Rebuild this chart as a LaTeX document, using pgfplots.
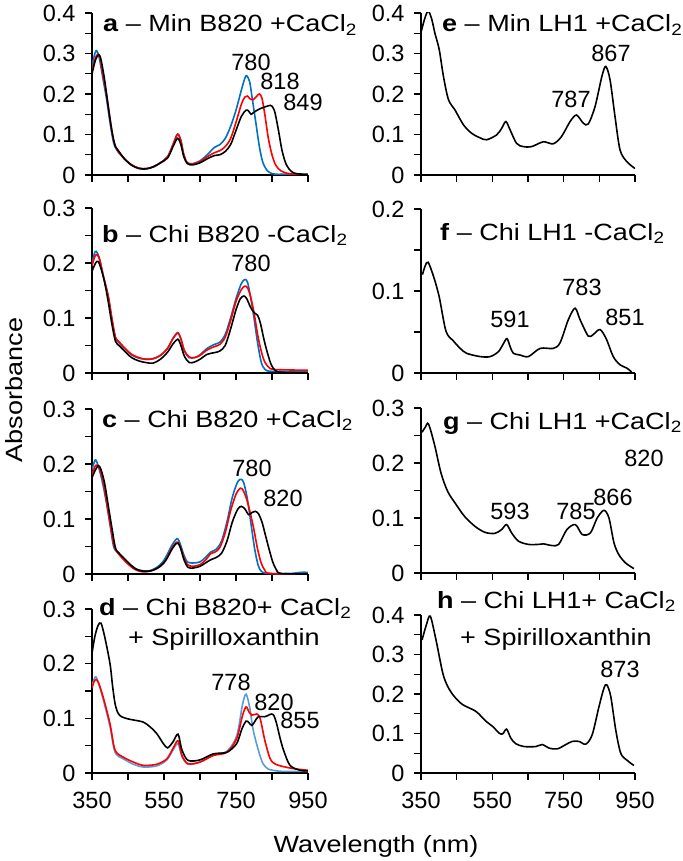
\documentclass[border=0pt]{standalone}
\usepackage{pgfplots}
\pgfplotsset{compat=1.18}
\usepackage{fontspec}
\setmainfont{Liberation Sans}
\newfontfamily\tfont[FakeStretch=1.15]{Liberation Sans}
\newcommand{\fs}{\fontsize{23.5}{28}\selectfont}
\definecolor{cblue}{RGB}{0,112,192}
\definecolor{cred}{RGB}{255,0,0}
\definecolor{clblue}{RGB}{91,155,213}
\pgfplotsset{
  panel/.style={
    scale only axis, anchor=south west,
    axis lines=left, axis line style={-, line width=1.1pt},
    tick align=outside, major tick length=7pt, minor tick length=7pt,
    every tick/.style={black, line width=1.1pt},
    every minor tick/.style={black, line width=1.1pt},
    xmin=350, xmax=950, ymin=0,
    xtick={350,550,750,950}, minor xtick={450,650,850},
    tick label style={font=\fs},
    /pgf/number format/assume math mode=true,
    xticklabels={},
    xticklabel style={yshift=-9pt},
    yticklabel style={xshift=-6pt},
    every axis plot/.append style={line width=1.6pt, smooth, no markers},
  },
  y4/.style={ymax=0.4, ytick={0,0.1,0.2,0.3,0.4}, minor ytick={0.05,0.15,0.25,0.35}},
  y3/.style={ymax=0.3, ytick={0,0.1,0.2,0.3}, minor ytick={0.05,0.15,0.25}},
  y2/.style={ymax=0.2, ytick={0,0.1,0.2}, minor ytick={0.05,0.15}},
  bottom/.style={xticklabels={350,550,750,950}},
}
\begin{document}
\begin{tikzpicture}
\useasboundingbox (0,0) rectangle (682pt,-861pt);
% ---------------- a
\begin{axis}[panel, y4, at={(92pt,-175pt)}, width=216pt, height=162pt]
\addplot[cblue] coordinates {(350,0.27)(358,0.30)(363,0.307)(370,0.29)(380,0.24)(390,0.19)(400,0.13)(410,0.08)(420,0.06)(430,0.05)(440,0.04)(460,0.025)(480,0.017)(500,0.015)(520,0.02)(540,0.03)(560,0.045)(575,0.075)(585,0.098)(590,0.1)(597,0.085)(605,0.05)(615,0.03)(630,0.028)(650,0.035)(670,0.05)(690,0.068)(705,0.075)(720,0.09)(735,0.12)(750,0.16)(765,0.21)(775,0.24)(780,0.245)(788,0.23)(795,0.19)(805,0.13)(815,0.07)(825,0.03)(840,0.008)(860,0.002)(900,0.002)(950,0.0)};
\addplot[cred] coordinates {(350,0.26)(360,0.29)(366,0.298)(372,0.29)(380,0.25)(390,0.2)(400,0.14)(410,0.085)(420,0.062)(430,0.05)(440,0.04)(460,0.025)(480,0.017)(500,0.016)(520,0.02)(540,0.03)(560,0.045)(575,0.075)(585,0.097)(590,0.1)(597,0.085)(605,0.05)(615,0.03)(630,0.027)(650,0.033)(670,0.045)(690,0.055)(705,0.06)(720,0.07)(735,0.09)(750,0.13)(765,0.175)(775,0.193)(782,0.195)(790,0.187)(798,0.186)(808,0.195)(815,0.2)(822,0.19)(830,0.15)(840,0.09)(850,0.05)(860,0.025)(875,0.01)(900,0.003)(950,0)};
\addplot[black] coordinates {(350,0.25)(360,0.285)(369,0.297)(375,0.285)(385,0.235)(395,0.17)(405,0.11)(415,0.07)(425,0.058)(440,0.04)(460,0.024)(480,0.016)(500,0.015)(520,0.02)(540,0.03)(560,0.042)(575,0.07)(585,0.088)(590,0.09)(597,0.075)(605,0.045)(615,0.028)(630,0.025)(650,0.03)(670,0.04)(690,0.048)(705,0.05)(720,0.058)(735,0.075)(750,0.11)(765,0.145)(778,0.16)(785,0.158)(792,0.15)(800,0.155)(815,0.163)(830,0.168)(845,0.172)(850,0.17)(858,0.155)(868,0.11)(878,0.06)(890,0.025)(905,0.008)(920,0.003)(950,0.002)};
\end{axis}
% ---------------- b
\begin{axis}[panel, y3, at={(92pt,-373pt)}, width=216pt, height=165pt]
\addplot[cblue] coordinates {(350,0.2)(357,0.218)(362,0.221)(370,0.21)(380,0.18)(395,0.14)(405,0.1)(415,0.065)(425,0.055)(440,0.045)(460,0.033)(480,0.027)(500,0.025)(520,0.026)(540,0.032)(560,0.045)(575,0.063)(585,0.072)(590,0.073)(597,0.062)(607,0.04)(620,0.028)(635,0.028)(650,0.033)(670,0.045)(690,0.052)(705,0.056)(720,0.07)(735,0.1)(750,0.135)(765,0.163)(775,0.17)(782,0.165)(790,0.14)(800,0.1)(810,0.055)(820,0.02)(830,0.007)(850,0.003)(950,0.003)};
\addplot[cred] coordinates {(350,0.195)(358,0.212)(364,0.215)(372,0.205)(382,0.175)(395,0.14)(405,0.1)(415,0.065)(425,0.057)(440,0.046)(460,0.034)(480,0.028)(500,0.025)(520,0.026)(540,0.032)(560,0.045)(575,0.063)(585,0.071)(590,0.072)(597,0.062)(607,0.04)(620,0.029)(635,0.028)(650,0.032)(670,0.042)(690,0.048)(705,0.052)(720,0.065)(735,0.095)(750,0.13)(765,0.152)(775,0.158)(782,0.155)(790,0.14)(800,0.11)(810,0.07)(820,0.04)(830,0.02)(845,0.008)(870,0.006)(950,0.005)};
\addplot[black] coordinates {(350,0.185)(360,0.2)(367,0.203)(375,0.19)(385,0.165)(395,0.13)(405,0.09)(415,0.058)(425,0.05)(440,0.04)(460,0.028)(480,0.022)(500,0.019)(520,0.018)(540,0.025)(560,0.038)(575,0.053)(585,0.06)(590,0.061)(597,0.05)(607,0.03)(620,0.019)(635,0.02)(650,0.025)(670,0.034)(690,0.037)(705,0.04)(720,0.05)(735,0.08)(750,0.115)(762,0.135)(772,0.14)(780,0.135)(790,0.12)(800,0.11)(810,0.105)(818,0.09)(828,0.06)(838,0.035)(848,0.015)(860,0.004)(880,0.001)(950,0)};
\end{axis}
% ---------------- c
\begin{axis}[panel, y3, at={(92pt,-574pt)}, width=216pt, height=165pt]
\addplot[cblue] coordinates {(350,0.19)(357,0.205)(361,0.207)(368,0.195)(378,0.17)(390,0.13)(400,0.09)(410,0.05)(420,0.04)(435,0.03)(450,0.02)(470,0.01)(490,0.006)(510,0.006)(530,0.012)(550,0.025)(570,0.05)(582,0.062)(588,0.064)(595,0.055)(605,0.035)(615,0.022)(630,0.02)(650,0.022)(665,0.03)(680,0.04)(695,0.045)(710,0.06)(725,0.095)(740,0.14)(755,0.168)(765,0.172)(772,0.165)(782,0.135)(792,0.09)(802,0.045)(812,0.015)(822,0.004)(840,0.001)(900,0.001)(930,0.003)(950,0.003)};
\addplot[cred] coordinates {(350,0.18)(358,0.195)(364,0.198)(372,0.19)(382,0.165)(392,0.125)(402,0.085)(412,0.05)(422,0.038)(435,0.028)(450,0.018)(470,0.008)(490,0.004)(510,0.005)(530,0.01)(550,0.02)(570,0.045)(582,0.056)(588,0.058)(595,0.05)(605,0.03)(615,0.017)(630,0.014)(650,0.017)(665,0.025)(680,0.037)(692,0.04)(705,0.048)(720,0.075)(735,0.115)(750,0.145)(762,0.156)(770,0.152)(780,0.135)(790,0.11)(800,0.08)(810,0.045)(820,0.02)(830,0.007)(845,0.001)(950,0)};
\addplot[black] coordinates {(350,0.175)(360,0.19)(368,0.197)(375,0.19)(385,0.165)(395,0.125)(405,0.085)(415,0.048)(425,0.038)(440,0.028)(455,0.018)(475,0.008)(495,0.005)(515,0.006)(535,0.012)(555,0.025)(572,0.045)(583,0.055)(589,0.056)(596,0.047)(606,0.025)(617,0.012)(632,0.011)(650,0.014)(665,0.02)(680,0.026)(695,0.03)(710,0.038)(725,0.06)(740,0.095)(755,0.118)(765,0.123)(775,0.118)(785,0.108)(795,0.112)(803,0.114)(812,0.11)(822,0.095)(832,0.07)(842,0.045)(852,0.022)(862,0.008)(875,0.001)(950,0)};
\end{axis}
% ---------------- d
\begin{axis}[panel, y3, bottom, at={(92pt,-773pt)}, width=216pt, height=164pt]
\addplot[clblue] coordinates {(350,0.16)(356,0.172)(361,0.176)(368,0.165)(381,0.135)(400,0.085)(414,0.038)(437,0.026)(465,0.016)(493,0.011)(530,0.013)(558,0.024)(575,0.042)(589,0.054)(600,0.03)(617,0.016)(650,0.02)(687,0.033)(725,0.04)(752,0.068)(768,0.125)(778,0.144)(788,0.12)(798,0.078)(812,0.042)(825,0.017)(840,0.007)(852,0.005)(880,0.003)(950,0.003)};
\addplot[cred] coordinates {(350,0.155)(355,0.166)(361,0.171)(368,0.165)(381,0.139)(400,0.09)(414,0.042)(437,0.029)(465,0.02)(493,0.014)(530,0.016)(558,0.026)(575,0.045)(589,0.059)(600,0.032)(617,0.017)(650,0.02)(687,0.032)(725,0.038)(752,0.063)(768,0.105)(778,0.121)(786,0.112)(794,0.106)(802,0.107)(808,0.108)(817,0.1)(830,0.06)(845,0.026)(860,0.016)(873,0.013)(910,0.008)(950,0.005)};
\addplot[black] coordinates {(350,0.219)(358,0.25)(367,0.27)(375,0.274)(385,0.25)(400,0.2)(407,0.16)(414,0.127)(422,0.11)(432,0.103)(450,0.099)(465,0.097)(493,0.093)(512,0.084)(530,0.072)(548,0.054)(560,0.046)(575,0.057)(589,0.071)(600,0.042)(617,0.023)(650,0.024)(687,0.035)(725,0.038)(752,0.054)(766,0.08)(778,0.095)(786,0.092)(794,0.087)(803,0.095)(812,0.103)(830,0.103)(849,0.108)(856,0.104)(863,0.09)(872,0.065)(882,0.042)(900,0.014)(928,0.005)(950,0.004)};
\end{axis}
% ---------------- e
\begin{axis}[panel, y4, at={(421pt,-175pt)}, width=214pt, height=162pt]
\addplot[black] coordinates {(351,0.355)(360,0.385)(370,0.405)(380,0.385)(389,0.35)(401,0.31)(413,0.243)(427,0.186)(445,0.161)(469,0.124)(492,0.103)(515,0.092)(534,0.087)(562,0.099)(576,0.115)(588,0.132)(600,0.111)(618,0.078)(637,0.07)(660,0.07)(693,0.082)(721,0.077)(744,0.095)(768,0.132)(786,0.148)(805,0.128)(819,0.126)(838,0.169)(857,0.243)(868,0.268)(880,0.235)(894,0.144)(908,0.062)(927,0.033)(950,0.016)};
\end{axis}
% ---------------- f
\begin{axis}[panel, y2, at={(421pt,-373pt)}, width=214pt, height=164pt]
\addplot[black] coordinates {(354,0.12)(362,0.131)(370,0.135)(385,0.118)(401,0.093)(420,0.051)(441,0.039)(460,0.03)(478,0.024)(516,0.02)(544,0.02)(567,0.026)(580,0.035)(591,0.042)(600,0.032)(609,0.024)(627,0.022)(651,0.02)(684,0.03)(721,0.03)(740,0.037)(763,0.065)(782,0.079)(796,0.065)(819,0.045)(833,0.047)(852,0.053)(870,0.041)(889,0.02)(908,0.01)(927,0.006)(941,0.001)};
\end{axis}
% ---------------- g
\begin{axis}[panel, y3, at={(421pt,-573pt)}, width=214pt, height=165pt]
\addplot[black] coordinates {(353,0.256)(362,0.265)(371,0.271)(388,0.233)(406,0.182)(425,0.148)(449,0.124)(472,0.103)(501,0.085)(529,0.074)(557,0.072)(576,0.079)(590,0.088)(604,0.073)(623,0.058)(651,0.052)(679,0.052)(693,0.053)(717,0.05)(736,0.052)(759,0.079)(783,0.088)(802,0.07)(825,0.073)(844,0.1)(863,0.114)(877,0.1)(891,0.055)(905,0.033)(924,0.018)(947,0.008)};
\end{axis}
% ---------------- h
\begin{axis}[panel, y4, bottom, at={(421pt,-773pt)}, width=214pt, height=158pt]
\addplot[black] coordinates {(353,0.337)(365,0.375)(376,0.397)(392,0.337)(411,0.253)(425,0.219)(443,0.194)(467,0.173)(504,0.156)(532,0.131)(551,0.118)(569,0.101)(579,0.099)(590,0.111)(602,0.088)(616,0.074)(639,0.067)(672,0.067)(690,0.072)(709,0.063)(732,0.061)(756,0.072)(774,0.08)(793,0.08)(812,0.073)(830,0.097)(849,0.168)(863,0.215)(871,0.223)(882,0.194)(896,0.109)(910,0.05)(928,0.032)(947,0.019)};
\end{axis}
% ---------------- titles
\fs
\node[anchor=base west, inner sep=0] at (103pt,-32pt) {\tfont\textbf{a} – Min B820 +CaCl\textsubscript{2}};
\node[anchor=base west, inner sep=0] at (442pt,-32pt) {\tfont\textbf{e} – Min LH1 +CaCl\textsubscript{2}};
\node[anchor=base west, inner sep=0] at (102pt,-242pt) {\tfont\textbf{b} – Chi B820 -CaCl\textsubscript{2}};
\node[anchor=base west, inner sep=0] at (440pt,-240pt) {\tfont\textbf{f} – Chi LH1 -CaCl\textsubscript{2}};
\node[anchor=base west, inner sep=0] at (102pt,-427pt) {\tfont\textbf{c} – Chi B820 +CaCl\textsubscript{2}};
\node[anchor=base west, inner sep=0] at (443pt,-429pt) {\tfont\textbf{g} – Chi LH1 +CaCl\textsubscript{2}};
\node[anchor=base west, inner sep=0] at (99pt,-615pt) {\tfont\textbf{d} – Chi B820+ CaCl\textsubscript{2}};
\node[anchor=base west, inner sep=0] at (128pt,-645pt) {\tfont + Spirilloxanthin};
\node[anchor=base west, inner sep=0] at (437pt,-608pt) {\tfont\textbf{h} – Chi LH1+ CaCl\textsubscript{2}};
\node[anchor=base west, inner sep=0] at (460pt,-645pt) {\tfont + Spirilloxanthin};
% ---------------- peak labels
\node[anchor=base, inner sep=0] at (251pt,-71pt) {780};
\node[anchor=base, inner sep=0] at (280pt,-90pt) {818};
\node[anchor=base, inner sep=0] at (303pt,-111pt) {849};
\node[anchor=base, inner sep=0] at (611pt,-62pt) {867};
\node[anchor=base, inner sep=0] at (571pt,-108pt) {787};
\node[anchor=base, inner sep=0] at (251pt,-271pt) {780};
\node[anchor=base, inner sep=0] at (510pt,-327pt) {591};
\node[anchor=base, inner sep=0] at (582pt,-295pt) {783};
\node[anchor=base, inner sep=0] at (625pt,-325pt) {851};
\node[anchor=base, inner sep=0] at (252pt,-476pt) {780};
\node[anchor=base, inner sep=0] at (283pt,-506pt) {820};
\node[anchor=base, inner sep=0] at (644pt,-466pt) {820};
\node[anchor=base, inner sep=0] at (510pt,-519pt) {593};
\node[anchor=base, inner sep=0] at (576pt,-519pt) {785};
\node[anchor=base, inner sep=0] at (613pt,-505pt) {866};
\node[anchor=base, inner sep=0] at (231pt,-690pt) {778};
\node[anchor=base, inner sep=0] at (274pt,-710pt) {820};
\node[anchor=base, inner sep=0] at (300pt,-728pt) {855};
\node[anchor=base, inner sep=0] at (620pt,-677pt) {873};
% ---------------- axis labels
\node[anchor=base, inner sep=0] at (376pt,-852pt) {\tfont Wavelength (nm)};
\node[rotate=90, anchor=center, inner sep=0] at (14pt,-390pt) {\tfont Absorbance};
\end{tikzpicture}
\end{document}
